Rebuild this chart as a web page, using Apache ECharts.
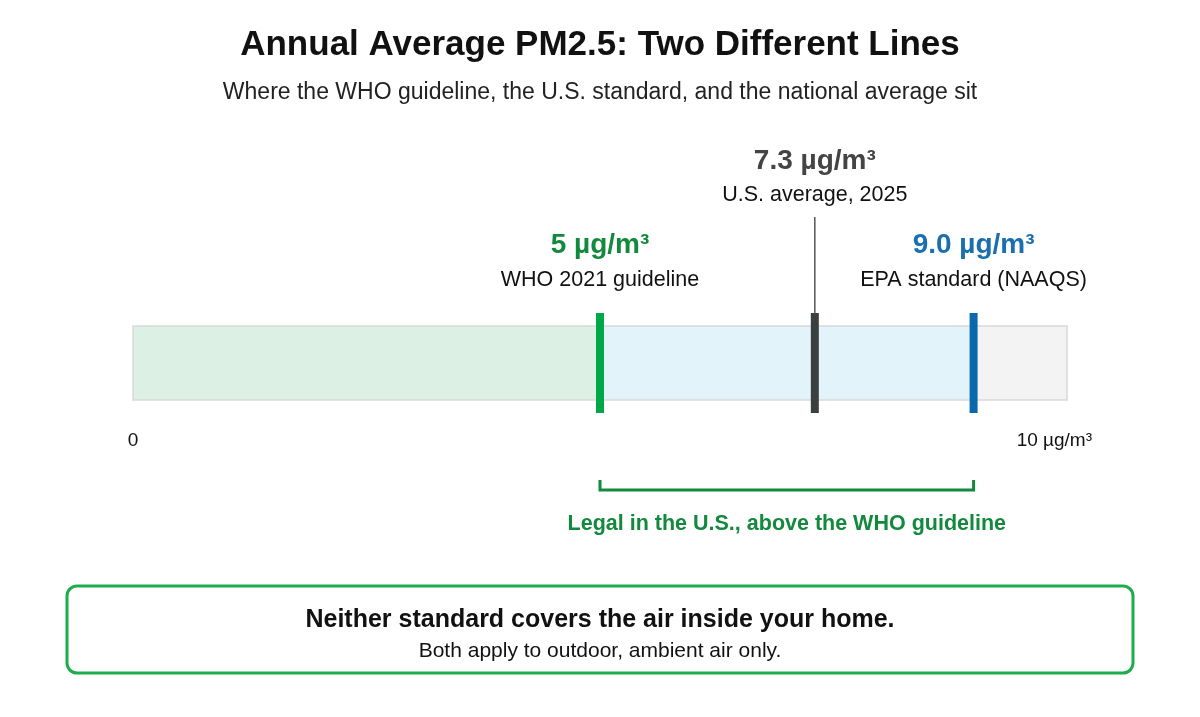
<!DOCTYPE html>
<html>
<head>
<meta charset="utf-8">
<script src="https://cdn.jsdelivr.net/npm/echarts@6/dist/echarts.min.js"></script>
<style>
  html, body { margin: 0; padding: 0; background: #fff; }
  #main { width: 1200px; height: 717px; }
</style>
</head>
<body>
<div id="main"></div>
<script>
// scale and shaded bands
const scaleMin = 0;
const scaleMax = 10;
const scaleLabels = ['0', '10 µg/m³'];
const bandStarts = [0, 5, 9];
const bandEnds = [5, 9, 10];

// reference lines
const markerValues = [5, 7.3, 9];
const markerValueLabels = ['5 µg/m³', '7.3 µg/m³', '9.0 µg/m³'];
const markerNames = ['WHO 2021 guideline', 'U.S. average, 2025', 'EPA standard (NAAQS)'];

// bracket between WHO and EPA
const gapRange = [5, 9];
const gapLabel = 'Legal in the U.S., above the WHO guideline';

const bandColors = ['#dcf1e4', '#e2f3fa', '#f3f3f3'];
const markerColors = ['#00a84a', '#3c3f3f', '#0a68ad'];
const markerTextColors = ['#13893d', '#444444', '#1a6fae'];
const FONT = '"Liberation Sans", Arial, Helvetica, sans-serif';

const chart = echarts.init(document.getElementById('main'));

const option = {
  animation: false,
  textStyle: { fontFamily: FONT },
  title: {
    text: 'Annual Average PM2.5: Two Different Lines',
    subtext: 'Where the WHO guideline, the U.S. standard, and the national average sit',
    left: 'center',
    top: 28,
    padding: 0,
    itemGap: 18,
    textStyle: { fontFamily: FONT, fontSize: 35, fontWeight: 'bold', color: '#111' },
    subtextStyle: { fontFamily: FONT, fontSize: 23, color: '#222' }
  },
  grid: { left: 133, right: 133, top: 326, height: 74 },
  xAxis: {
    type: 'value', min: scaleMin, max: scaleMax,
    show: false
  },
  yAxis: { type: 'value', min: 0, max: 1, show: false },
  series: [
    {
      // shaded bands
      type: 'custom',
      silent: true,
      data: bandStarts.map((s, i) => [s, bandEnds[i]]),
      renderItem: (params, api) => {
        const p0 = api.coord([api.value(0), 1]);
        const p1 = api.coord([api.value(1), 0]);
        return {
          type: 'rect',
          shape: { x: p0[0], y: p0[1], width: p1[0] - p0[0], height: p1[1] - p0[1] },
          style: { fill: bandColors[params.dataIndex], stroke: '#d9d9d9', lineWidth: 1.5 }
        };
      }
    },
    {
      // scale end labels
      type: 'custom',
      silent: true,
      data: [scaleMin, scaleMax].map((v, i) => [v, i]),
      renderItem: (params, api) => {
        const p = api.coord([api.value(0), 0]);
        const last = params.dataIndex === 1;
        return {
          type: 'text',
          x: p[0] + (last ? 25 : 0), y: p[1] + 41,
          style: {
            text: scaleLabels[params.dataIndex],
            fontFamily: FONT, fontSize: 19, fill: '#111',
            align: last ? 'right' : 'center', verticalAlign: 'middle'
          }
        };
      }
    },
    {
      // reference markers with labels
      type: 'custom',
      silent: true,
      data: markerValues.map((v, i) => [v, i]),
      renderItem: (params, api) => {
        const i = params.dataIndex;
        const top = api.coord([api.value(0), 1]);
        const bot = api.coord([api.value(0), 0]);
        const x = top[0];
        const high = i === 1;
        const children = [
          {
            type: 'rect',
            shape: { x: x - 4, y: top[1] - 13, width: 8, height: bot[1] - top[1] + 26 },
            style: { fill: markerColors[i] }
          },
          {
            type: 'text', x: x, y: top[1] - (high ? 165 : 81),
            style: {
              text: markerValueLabels[i], fontFamily: FONT, fontSize: 28, fontWeight: 'bold',
              fill: markerTextColors[i], align: 'center', verticalAlign: 'middle'
            }
          },
          {
            type: 'text', x: x, y: top[1] - (high ? 131 : 46),
            style: {
              text: markerNames[i], fontFamily: FONT, fontSize: 21.5,
              fill: '#111', align: 'center', verticalAlign: 'middle'
            }
          }
        ];
        if (high) {
          children.push({
            type: 'line',
            shape: { x1: x, y1: top[1] - 109, x2: x, y2: top[1] - 12 },
            style: { stroke: '#555', lineWidth: 1.5 }
          });
        }
        return { type: 'group', children: children };
      }
    },
    {
      // bracket under the gap
      type: 'custom',
      silent: true,
      data: [gapRange],
      renderItem: (params, api) => {
        const a = api.coord([api.value(0), 0]);
        const b = api.coord([api.value(1), 0]);
        const y = a[1] + 90;
        return {
          type: 'group',
          children: [
            {
              type: 'polyline',
              shape: { points: [[a[0], y - 10], [a[0], y], [b[0], y], [b[0], y - 10]] },
              style: { stroke: '#13893d', lineWidth: 3, fill: null }
            },
            {
              type: 'text', x: (a[0] + b[0]) / 2, y: y + 34,
              style: {
                text: gapLabel, fontFamily: FONT, fontSize: 21.5, fontWeight: 'bold',
                fill: '#13893d', align: 'center', verticalAlign: 'middle'
              }
            }
          ]
        };
      }
    }
  ],
  graphic: [
    {
      type: 'rect',
      shape: { x: 67, y: 586, width: 1066, height: 87, r: 10 },
      style: { fill: '#fff', stroke: '#1fac4e', lineWidth: 3 }
    },
    {
      type: 'text', x: 600, y: 620,
      style: {
        text: 'Neither standard covers the air inside your home.',
        fontFamily: FONT, fontSize: 25, fontWeight: 'bold', fill: '#111',
        align: 'center', verticalAlign: 'middle'
      }
    },
    {
      type: 'text', x: 600, y: 651,
      style: {
        text: 'Both apply to outdoor, ambient air only.',
        fontFamily: FONT, fontSize: 21, fill: '#111',
        align: 'center', verticalAlign: 'middle'
      }
    }
  ]
};

chart.setOption(option);
</script>
</body>
</html>
